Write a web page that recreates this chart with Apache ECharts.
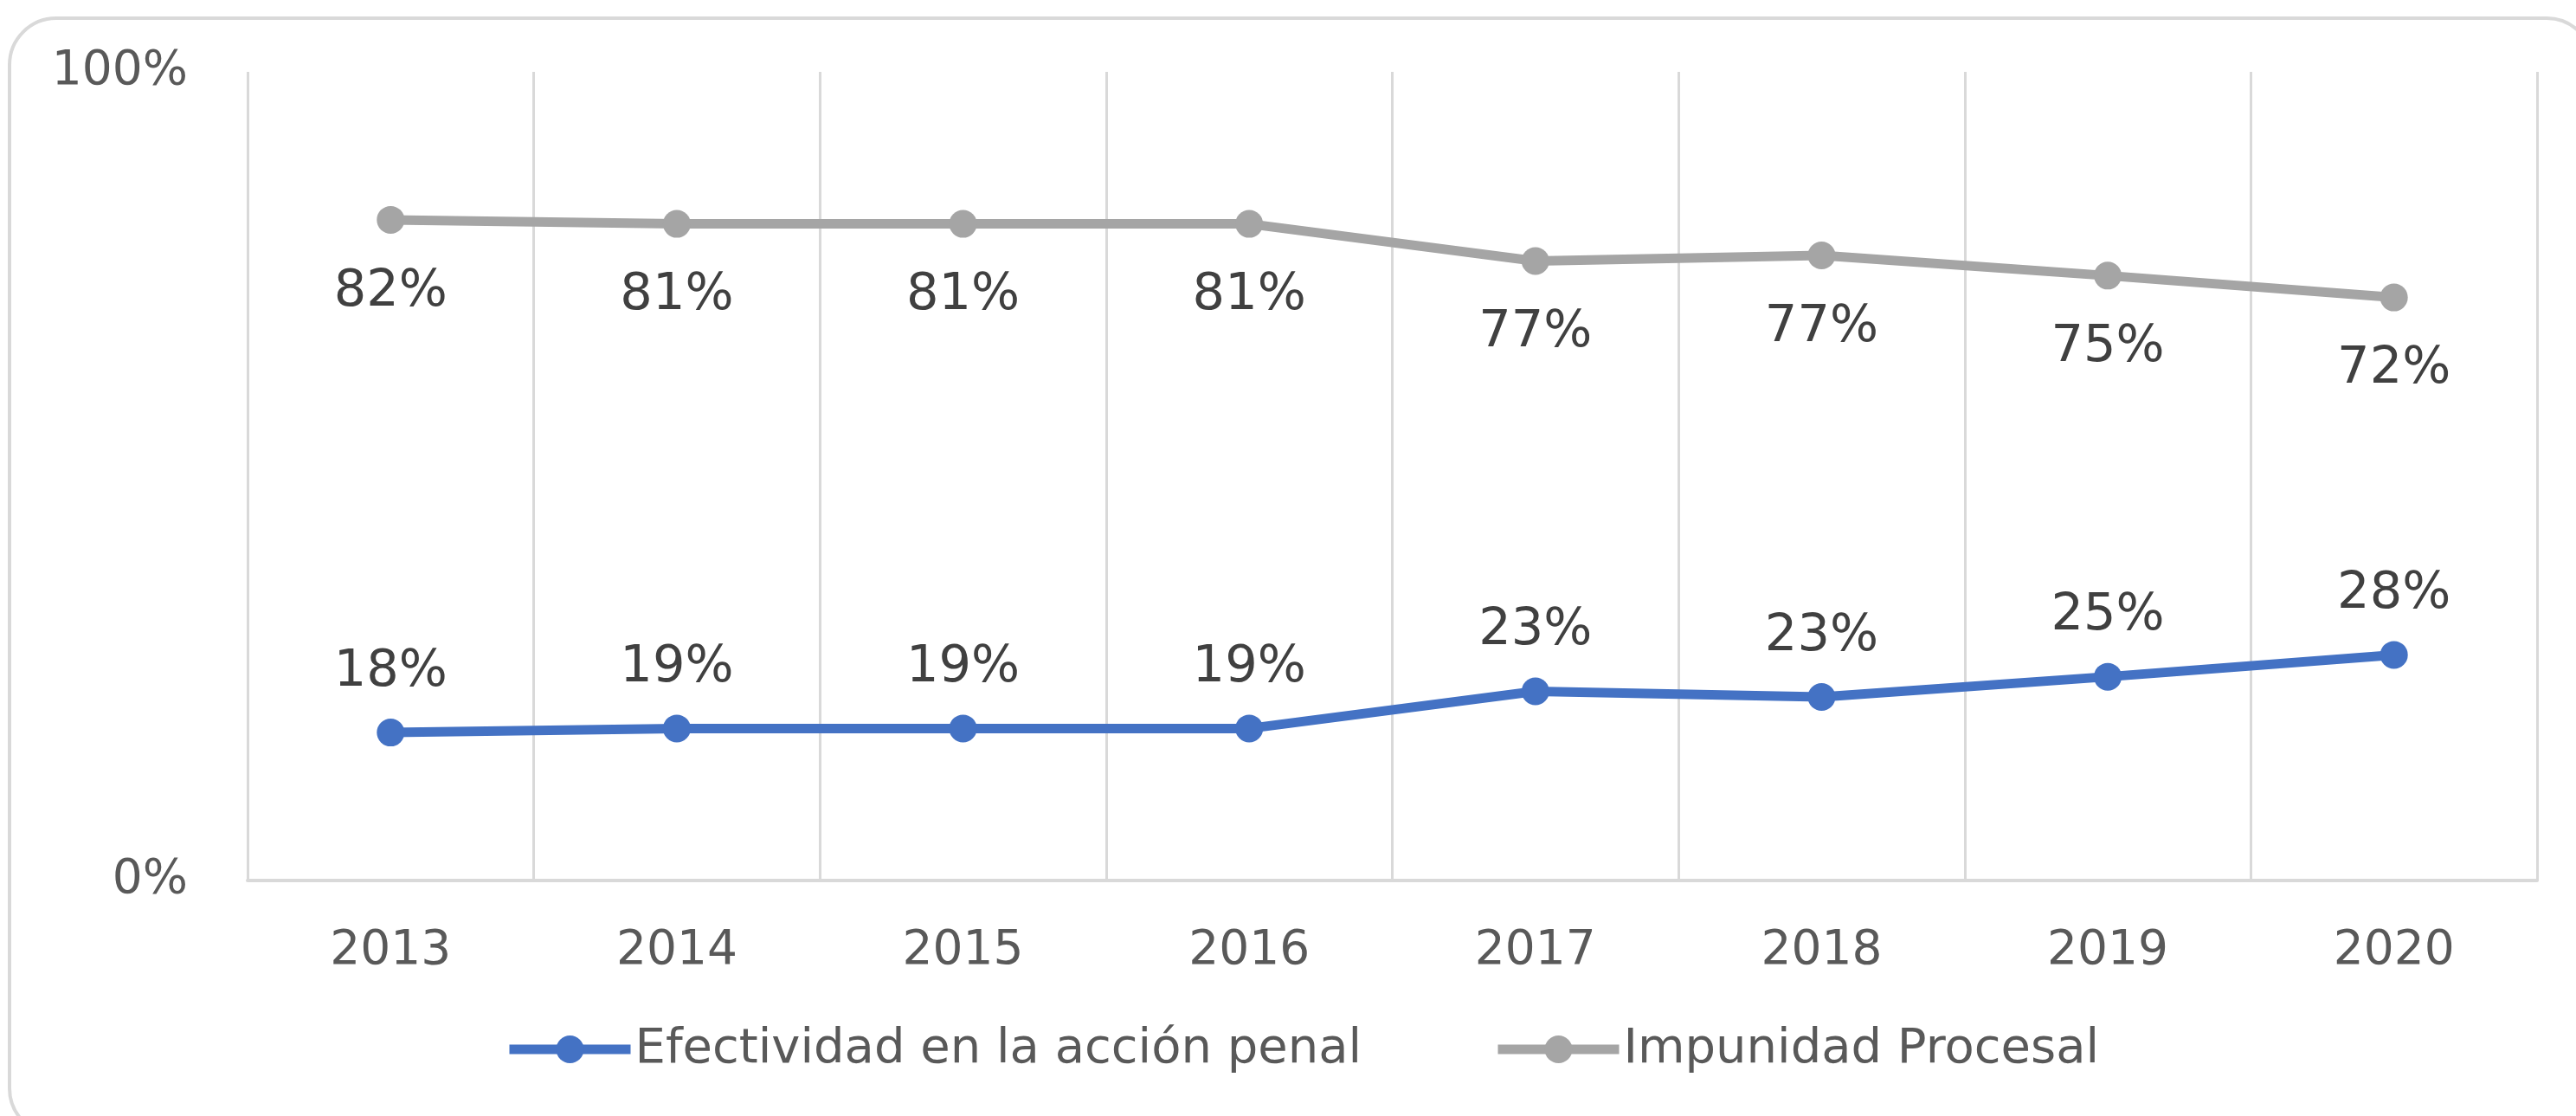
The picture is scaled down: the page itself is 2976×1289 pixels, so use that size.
<!DOCTYPE html>
<html>
<head>
<meta charset="utf-8">
<title>Efectividad vs Impunidad</title>
<script src="https://cdn.jsdelivr.net/npm/echarts/dist/echarts.min.js"></script>
<style>
  html, body { margin: 0; padding: 0; background: #fff; }
  #chart { width: 2976px; height: 1289px; }
</style>
</head>
<body>
<div id="chart"></div>
<script>
// años del eje x
const years = ['2013', '2014', '2015', '2016', '2017', '2018', '2019', '2020']
// valores en porcentaje
const efectividad = [18.3, 18.8, 18.8, 18.8, 23.4, 22.7, 25.2, 27.9]
const impunidad = [81.7, 81.2, 81.2, 81.2, 76.6, 77.3, 74.8, 72.1]
const seriesNames = ['Efectividad en la acción penal', 'Impunidad Procesal']

const font = 'DejaVu Sans'
const chart = echarts.init(document.getElementById('chart'))

const labelFmt = (p) => Math.round(p.value) + '%'

const legendItem = (name, left) => ({
  data: [name],
  left: left,
  top: 1184,
  padding: 0,
  itemWidth: 140,
  itemHeight: 40,
  lineStyle: { width: 11 },
  textStyle: { fontFamily: font, fontSize: 56, color: '#595959' },
})

chart.setOption({
  animation: false,
  backgroundColor: '#fff',
  color: ['#4472C4', '#A5A5A5'],
  graphic: [
    {
      type: 'rect',
      shape: { x: 11, y: 21, width: 2985, height: 1290, r: 54 },
      style: { fill: 'none', stroke: '#d9d9d9', lineWidth: 4 },
      silent: true,
    },
  ],
  grid: {
    left: 286,
    right: 45,
    top: 83,
    bottom: 272,
  },
  legend: [legendItem(seriesNames[0], 583), legendItem(seriesNames[1], 1725)],
  xAxis: {
    type: 'category',
    data: years,
    boundaryGap: true,
    axisLine: { lineStyle: { color: '#d9d9d9', width: 4 } },
    axisTick: { show: false },
    axisLabel: {
      fontFamily: font,
      fontSize: 55,
      color: '#595959',
      margin: 54,
    },
    splitLine: { show: true, lineStyle: { color: '#d9d9d9', width: 3 } },
  },
  yAxis: {
    type: 'value',
    min: 0,
    max: 100,
    interval: 100,
    axisLine: { show: false },
    axisTick: { show: false },
    splitLine: { show: false },
    axisLabel: {
      formatter: '{value}%',
      fontFamily: font,
      fontSize: 55,
      color: '#595959',
      margin: 69,
    },
  },
  series: [
    {
      name: seriesNames[0],
      type: 'line',
      data: efectividad,
      symbol: 'circle',
      symbolSize: 32,
      lineStyle: { width: 11 },
      label: {
        show: true,
        position: 'top',
        distance: 24,
        formatter: labelFmt,
        fontFamily: font,
        fontSize: 59,
        color: '#404040',
      },
    },
    {
      name: seriesNames[1],
      type: 'line',
      data: impunidad,
      symbol: 'circle',
      symbolSize: 32,
      lineStyle: { width: 11 },
      label: {
        show: true,
        position: 'bottom',
        distance: 38,
        formatter: labelFmt,
        fontFamily: font,
        fontSize: 59,
        color: '#404040',
      },
    },
  ],
})

window.onresize = () => chart.resize()
</script>
</body>
</html>
